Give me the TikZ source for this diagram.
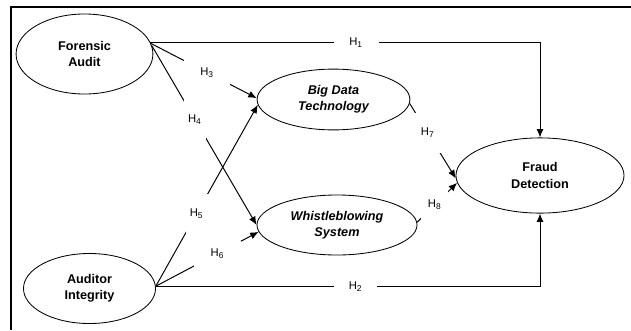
\documentclass[tikz,border=0pt]{standalone}
\usepackage{fontspec}
\setmainfont{Liberation Sans}
\usetikzlibrary{shapes.geometric,arrows.meta}

\begin{document}
\begin{tikzpicture}[x=0.025cm,y=-0.025cm,
  construct/.style={draw,ellipse,line width=0.6pt,align=center,inner sep=0pt,
    font=\fontsize{9}{11.5}\selectfont\bfseries},
  path/.style={line width=0.7pt,-{Latex[length=6pt,width=5pt]}},
  hyp/.style={fill=white,inner sep=0pt,font=\fontsize{8}{9}\selectfont}]
  \useasboundingbox (0,0) rectangle (631,330);
  \draw[line width=1.4pt] (11,330) |- (631,7);

  % constructs
  \node[construct,minimum width=3.42cm,minimum height=2cm] (fa) at (84.5,54) {Forensic\\Audit};
  \node[construct,minimum width=3.3cm,minimum height=1.75cm] (ai) at (89.5,288.5) {Auditor\\Integrity};
  \node[construct,minimum width=3.82cm,minimum height=1.52cm,
    font=\fontsize{9}{11.5}\selectfont\bfseries\itshape] (bd) at (333.5,99.5) {Big Data\\Technology};
  \node[construct,minimum width=4cm,minimum height=1.5cm,
    font=\fontsize{9}{11.5}\selectfont\bfseries\itshape] (ws) at (337,225) {Whistleblowing\\System};
  \node[construct,minimum width=4.2cm,minimum height=1.88cm] (fd) at (540,175.5) {Fraud\\Detection};

  % direct effects
  \draw[path] (fa.10) -| node[hyp,pos=0.264,minimum width=1.12cm,minimum height=0.4cm] {H\textsubscript{1}} (fd.north);
  \draw[path] (ai.2) -| node[hyp,pos=0.26,minimum width=1.08cm,minimum height=0.4cm] {H\textsubscript{2}} (fd.south);

  % mediated paths
  \foreach \from/\to/\p/\w/\h/\n in {fa.9/bd.179/0.53/1.15/0.65/3, fa.7/ws.west/0.41/0.55/1.0/4,
      ai.2/bd.184/0.40/0.55/1.0/5, ai.2/ws.185/0.60/1.15/0.65/6,
      bd.-3/fd.182/0.39/0.65/1.0/7, ws.2/fd.185/0.44/0.68/0.78/8}
    \draw[path] (\from) -- node[hyp,pos=\p,minimum width=\w cm,minimum height=\h cm] {H\textsubscript{\n}} (\to);
\end{tikzpicture}
\end{document}
